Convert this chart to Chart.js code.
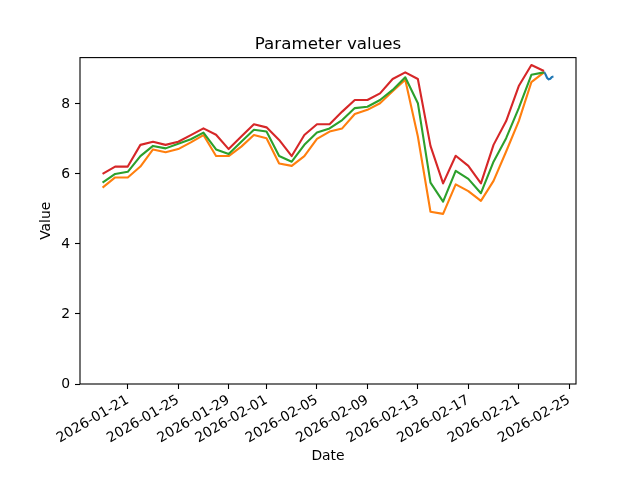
<!DOCTYPE html>
<html>
<head>
<meta charset="utf-8">
<script src="https://cdn.jsdelivr.net/npm/chart.js@4.4.1/dist/chart.umd.min.js"></script>
<style>
  html, body { margin: 0; padding: 0; background: #fff; }
</style>
</head>
<body>
<canvas id="myChart" width="640" height="480"></canvas>
<script>
var Dates = ['2026-01-19','2026-01-20','2026-01-21','2026-01-22','2026-01-23','2026-01-24',
             '2026-01-25','2026-01-26','2026-01-27','2026-01-28','2026-01-29','2026-01-30',
             '2026-01-31','2026-02-01','2026-02-02','2026-02-03','2026-02-04','2026-02-05',
             '2026-02-06','2026-02-07','2026-02-08','2026-02-09','2026-02-10','2026-02-11',
             '2026-02-12','2026-02-13','2026-02-14','2026-02-15','2026-02-16','2026-02-17',
             '2026-02-18','2026-02-19','2026-02-20','2026-02-21','2026-02-22','2026-02-23'];

var Red =    [6.00,6.21,6.21,6.83,6.92,6.83,6.92,7.11,7.30,7.12,6.71,7.07,7.42,7.33,6.97,6.51,7.11,7.42,
              7.42,7.78,8.11,8.11,8.30,8.71,8.90,8.71,6.80,5.73,6.52,6.23,5.73,6.83,7.51,8.51,9.11,8.94];
var Green =  [5.75,6.00,6.06,6.51,6.80,6.73,6.86,6.99,7.18,6.70,6.57,6.92,7.26,7.21,6.51,6.35,6.83,7.18,
              7.30,7.54,7.88,7.92,8.11,8.40,8.76,8.02,5.75,5.21,6.09,5.86,5.45,6.35,7.02,7.88,8.83,8.90];
var Orange = [5.61,5.90,5.90,6.21,6.70,6.62,6.71,6.90,7.11,6.51,6.51,6.78,7.11,7.02,6.30,6.23,6.51,7.00,
              7.21,7.30,7.71,7.83,8.02,8.36,8.69,7.07,4.92,4.86,5.70,5.51,5.23,5.80,6.64,7.51,8.62,8.90];

// short last series, a few readings on the final day
var BlueTimes =  ['2026-02-23T00:00','2026-02-23T03:00','2026-02-23T06:00','2026-02-23T09:00',
                  '2026-02-23T12:00','2026-02-23T15:00','2026-02-23T18:00'];
var BlueValues = [8.92,8.84,8.74,8.70,8.72,8.77,8.78];

var TickDates = ['2026-01-21','2026-01-25','2026-01-29','2026-02-01','2026-02-05',
                 '2026-02-09','2026-02-13','2026-02-17','2026-02-21','2026-02-25'];
var YTicks = [0,2,4,6,8];

function ms(s) { return Date.parse(s.length > 10 ? s + ':00Z' : s + 'T00:00:00Z'); }
function pts(xs, ys) { return xs.map(function (d, i) { return {x: ms(d), y: ys[i]}; }); }

var xMin = ms(Dates[0]), xMax = ms(BlueTimes[BlueTimes.length - 1]);
var xPad = (xMax - xMin) * 0.05;
var all = Red.concat(Green, Orange, BlueValues);
var yHi = Math.max.apply(null, all), yLo = Math.min.apply(null, all);
var yMax = yHi + (yHi - yLo) * 0.05;

var font = {family: 'DejaVu Sans', size: 13.9};

var frame = {
  id: 'frame',
  afterDraw: function (chart) {
    var ctx = chart.ctx, a = chart.chartArea;
    ctx.save();
    ctx.strokeStyle = '#000';
    ctx.lineWidth = 1.1;
    ctx.strokeRect(a.left, a.top, a.right - a.left, a.bottom - a.top);
    ctx.fillStyle = '#000';
    ctx.font = '16.7px "DejaVu Sans"';
    ctx.textAlign = 'center';
    ctx.textBaseline = 'alphabetic';
    ctx.fillText('Parameter values', (a.left + a.right) / 2, a.top - 8.3);
    ctx.restore();
  }
};

function line(data, color, order) {
  return {
    data: data,
    borderColor: color,
    backgroundColor: color,
    borderWidth: 2.1,
    pointRadius: 0,
    tension: 0,
    fill: false,
    borderJoinStyle: 'round',
    order: order
  };
}

var ctx = document.getElementById('myChart');
var myChart = new Chart(ctx, {
  type: 'line',
  data: {
    datasets: [
      line(pts(BlueTimes, BlueValues), '#1f77b4', 3),
      line(pts(Dates, Orange), '#ff7f0e', 2),
      line(pts(Dates, Green), '#2ca02c', 1),
      line(pts(Dates, Red), '#d62728', 0)
    ]
  },
  options: {
    responsive: false,
    animation: false,
    devicePixelRatio: 1,
    layout: { padding: {left: 0, right: 64, top: 57.6, bottom: 0} },
    plugins: { legend: {display: false}, tooltip: {enabled: false}, title: {display: false} },
    scales: {
      x: {
        type: 'linear',
        min: xMin - xPad,
        max: xMax + xPad,
        afterFit: function (s) { s.height = 96; },
        afterBuildTicks: function (s) { s.ticks = TickDates.map(function (d) { return {value: ms(d)}; }); },
        ticks: {
          minRotation: 30, maxRotation: 30, autoSkip: false, padding: 3,
          color: '#000', font: font,
          callback: function (v) { return new Date(v).toISOString().slice(0, 10); }
        },
        grid: { drawOnChartArea: false, tickLength: 5, tickColor: '#000', tickWidth: 1.1 },
        border: { display: false },
        title: { display: true, text: 'Date', color: '#000', font: font, padding: {top: 0, bottom: 15.5} }
      },
      y: {
        min: 0,
        max: yMax,
        afterFit: function (s) { s.width = 80; },
        afterBuildTicks: function (s) { s.ticks = YTicks.map(function (v) { return {value: v}; }); },
        ticks: { padding: 5, color: '#000', font: font },
        grid: { drawOnChartArea: false, tickLength: 5, tickColor: '#000', tickWidth: 1.1 },
        border: { display: false },
        title: { display: true, text: 'Value', color: '#000', font: font, padding: {top: 38, bottom: 0} }
      }
    }
  },
  plugins: [frame]
});
</script>
</body>
</html>
